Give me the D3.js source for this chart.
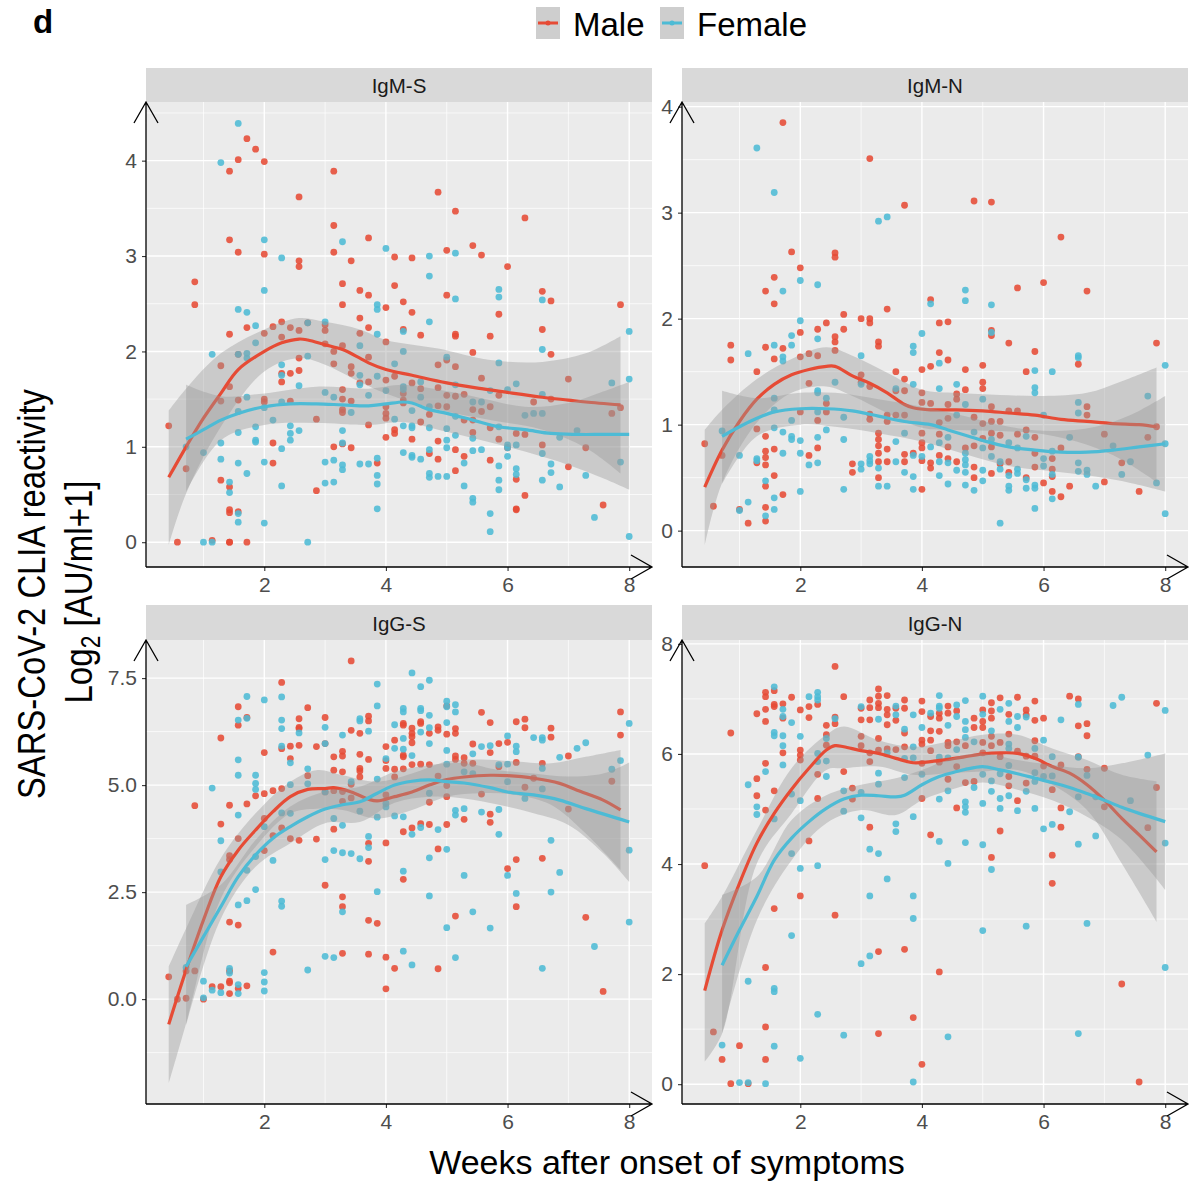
<!DOCTYPE html>
<html>
<head>
<meta charset="utf-8">
<script src="https://cdn.jsdelivr.net/npm/d3@7"></script>
<style>
  body { margin: 0; background: #fff; }
</style>
</head>
<body>
<svg id="chart" width="1192" height="1185"></svg>
<script>
// ---- data: points are [day after onset, value, value, ...] (x axis is day / 7 = weeks) ----
const igmS_male = [[3,1.22],[4,0],[5,0.77],[6,2.73,2.49],[8,0.02],[9,1.85,1.48,0.65],
  [10,3.89,3.17,2.18,1.63,0.58,0.34,0.31,0,0],[11,4.01,3.04,1.97,1.49,0.32],[12,4.23,2.25,0],[13,4.12],
  [14,3.99,3.02,2.19,1.5,1.47],[15,2.26,1.04,0.83],[16,2.31,2.15,1.77,1.68],[17,2.25,1.77,1.48],
  [18,3.62,2.95,2.89,2.22,1.93,1.8],[19,2.3],[20,1.29,0.54],[21,2.28,2.22,2.08],[22,3.89,3.32,3.04,2.0,1.87,1.0],
  [23,2.71,2.49,2.06,1.6,1.5,1.39,1.36,1.03],[24,2.95,1.84,1.77,1.48,0.99],[25,2.64,2.35,2.19,1.67],
  [26,3.19,2.59,2.25,1.94,1.68,1.23],[27,0.83],[28,2.46,2.1,1.7,1.42,1.35,1.3,1.1],[29,2.99,2.69,1.74,1.18,1.14],
  [30,2.52,2.23,1.56,1.49,1.46],[31,2.98,2.41,1.67,1.08],[32,2.17,1.61,1.26],[33,1.34,0.93],
  [34,3.67,1.86,1.62,1.43,1.06,0.87],[35,3.06,2.59,1.91,1.54,1.42],[36,3.47,2.18,2.16,1.84,1.53,0.97,0.75],
  [37,1.55,1.28,0.9],[38,3.11,1.99,1.39,1.28,1.15],[39,3.01,1.72,1.37],[40,2.16,1.42,1.2,0.86],[41,2.39,1.54,1.08],
  [42,2.89,0.99],[43,1.14,0.66,0.35,0.34],[44,3.4,1.13,0.49],[45,1.47],[46,2.63,2.23,1.02],[47,2.53,1.97,1.5],
  [49,1.71,0.79],[51,0.99],[53,0.39],[54,1.35],[55,2.49,1.41]];
const igmS_female = [[5,1.0],[7,0.94,0],[8,1.97,0],[9,3.98,1.04,0.87],[10,0.63,0.52],
  [11,4.39,2.44,1.97,1.37,1.15,0.83,0.3,0.21],[12,2.41,1.98,1.93,1.52,0.72],[13,2.27,2.09,1.21,1.07,1.05],
  [14,3.17,2.64,1.41,0.84,0.2],[15,1.28],[16,2.98,1.86,1.75,1.47,0.98,0.59],[17,1.22,1.14,1.07],[18,1.64,1.17],
  [19,2.3,1.95,0],[21,2.31,1.57,0.84,0.62],[22,1.52,0.86,0.63],[23,3.15,1.17,1.04,0.81,0.76],[24,1.36],
  [25,2.06,1.75,1.65,0.82],[26,1.54,0.82],[27,2.49,2.44,2.18,1.74,0.88,0.7,0.61,0.35],[28,3.08,1.59],[29,1.87,1.29],
  [30,2.21,2.0,1.63,1.6,1.22,0.94],[31,1.38,1.22,1.2,0.91,0.89],[32,1.68,1.52,0.87],
  [33,3.0,2.79,2.31,1.42,1.2,0.97,0.72,0.68],[34,0.69],[35,1.94,1.19,1.07,0.99,0.69],[36,3.03,2.55,1.65,1.32,1.12],
  [37,0.83,0.59],[38,1.47,1.09,0.96,0.46,0.42],[39,1.47,0.97],[40,1.59,0.3,0.11],[41,2.65,2.57,1.88,1.21,0.8,0.65,0.55],
  [42,1.6,1.02,0.99,0.9],[43,1.66,1.02,0.77,0.71],[44,1.33],[45,1.35],[46,2.54,2.02,1.55,1.35,0.93,0.65],
  [47,0.82,0.73],[48,1.1,0.58],[50,1.17],[51,0.7],[52,0.26],[54,1.67],[55,0.84],[56,2.21,1.71,0.06]];

const igmN_male = [[3,0.82],[4,0.23],[5,0.71],[6,1.75,1.61],[7,0.2],[8,0.07],[9,1.5,0.96,0.64],
  [10,2.26,1.73,0.89,0.75,0.69,0.62,0.42,0.22,0.09],[11,2.39,2.14,1.62,0.77,0.52],[12,3.85,1.72,0.34],[13,2.63],
  [14,2.48,1.87,1.64,1.12],[15,1.67,1.39,0.71],[16,1.9,1.65,1.04,0.78],[17,1.96,1.2,1.12],[18,2.62,2.58,1.83,1.78,1.7],
  [19,2.04,1.9],[20,0.63,0.55],[21,2.0,1.47,1.4],[22,3.51,2.0,1.96,1.36,1.1,1.05],[23,1.78,1.74,0.92,0.86,0.8,0.73,0.65,0.5],
  [24,2.09,1.09,1.03,0.77,0.65],[25,1.5,1.32,1.09],[26,3.07,1.43,1.32,1.09,0.72,0.65],[27,0.73],
  [28,1.52,1.3,1.21,0.92,0.83,0.78,0.66,0.39],[29,2.18,1.55,1.2,0.64,0.59],[30,1.96,1.68,1.02,0.91,0.71],
  [31,1.97,1.61,1.19,1.06,0.79,0.68],[32,1.29,1.24,0.65],[33,1.52,1.33,0.78],[34,3.11,1.07,0.8,0.6,0.5],
  [35,1.56,1.4,1.34,1.01,0.87],[36,3.1,1.89,1.84,1.17,1.03,0.92,0.79,0.54],[37,1.03,0.9,0.63],[38,1.77,1.13,0.65,0.55],
  [39,2.29,1.13,0.91],[40,1.5,0.95,0.5],[41,1.69,0.88,0.73,0.6],[42,2.34,0.45],[43,0.68,0.58,0.51,0.37],
  [44,2.77,0.78,0.32],[45,0.42],[46,1.57],[47,2.26,1.17,1.09],[49,0.91,0.46],[51,0.64],[53,0.37],[54,0.88],[55,1.77,0.98]];
const igmN_female = [[5,0.94],[7,0.71,0.19],[8,1.67,0.27],[9,3.61,0.68,0.66],[10,0.47,0.14],
  [11,3.19,1.75,1.25,1.14,0.97,0.31,0.2],[12,2.26,1.64,1.6,0.93,0.73],[13,1.84,1.75,1.04,0.89,0.86],
  [14,2.36,1.98,0.85,0.73,0.37],[15,0.62],[16,2.32,1.81,1.32,1.3,1.12,0.88,0.64],[17,1.25,0.95],[18,1.4],
  [19,1.07,0.86,0.39],[21,1.65,1.38,0.63,0.58],[22,0.7,0.66,0.63],[23,2.92,0.59,0.42],[24,2.96,0.42],
  [25,1.34,0.84,0.65],[26,0.92,0.55],[27,1.74,1.68,1.38,0.71,0.51,0.39],[28,1.86,0.7],[29,2.14,0.79],
  [30,1.58,1.34,0.83,0.65,0.52],[31,0.88,0.64,0.44],[32,1.38,1.09,0.57],[33,2.27,2.17,1.19,0.73,0.67,0.62,0.55,0.43],
  [34,0.93,0.38],[35,1.24,0.78,0.57,0.47],[36,2.13,1.87,0.86,0.7],[37,0.65,0.58,0.07],[38,0.83,0.52,0.42,0.38],
  [39,0.78,0.58,0.54],[40,0.89,0.48,0.4],[41,1.51,1.35,1.3,0.43,0.4,0.21],[42,1.09,0.68,0.61],[43,1.5,0.75,0.53,0.3],
  [45,0.88],[46,1.65,1.63,1.21,1.11,0.64,0.56],[47,0.57,0.53],[48,0.42],[50,0.8],[51,0.53],[52,0.65],[54,1.27],
  [55,0.45],[56,1.56,0.82,0.16]];

const iggS_male = [[3,0.52],[4,0],[5,0.02,0.66],[6,4.52,0.66],[7,0],[8,0.29],[9,6.1,4.09,0.29],
  [10,4.53,3.35,3.26,1.8,0.66,0.42,0.38,0.13],[11,6.83,6.4,3.75,1.73,0.25],[12,6.58,4.56,0.31],[13,4.75],
  [14,5.76,4.8,4.22,3.47],[15,4.87,3.82,1.1],[16,7.4,5.85,4.92,4.0],[17,5.91,5.62,3.75],[18,6.55,6.35,6.32,5.93,3.71],
  [19,6.81,5.22],[20,5.9,3.74],[21,6.58,5.97,4.84,2.66],[22,5.66,5.35,4.87,3.97],[23,5.79,5.68,5.31,4.85,4.62,2.39,2.16,1.07],
  [24,7.9,6.28,5.02,4.7],[25,6.21,5.72,5.39,5.33,5.19],[26,6.61,6.5,5.6,3.64,3.22,1.84,1.05],[27,1.77],
  [28,5.9,5.57,5.39,4.77,3.65,0.98,0.24],[29,6.05,5.37,5.19,0.72],[30,6.44,6.4,5.7,5.66,5.38,3.91,2.8],
  [31,6.33,6.21,6.13,5.99,5.48,4.0],[32,6.48,6.44,5.49,4.1],[33,6.21,5.48,4.6,4.08],[34,6.36,6.28,5.21,3.51,0.71],
  [35,6.85,6.19,4.99,4.73,4.08],[36,6.32,6.21,5.68,5.6,1.94],[37,5.64,5.51,4.2],[38,5.96,5.51],[39,6.7,4.79],
  [40,6.46,5.76,4.32,4.13],[41,5.97,5.43],[42,6.0,3.05],[43,6.48,5.53,3.26,2.16],[44,6.54,6.34,4.95],[45,5.16],
  [46,5.51,3.29],[47,6.33,6.12],[49,5.68,4.44],[51,1.91],[53,0.18],[54,5.09],[55,6.71,6.17]];
const iggS_female = [[5,0.74],[7,0.42,0.03],[8,4.93,0.21],[9,3.7,2.97,0.15],[10,0.72,0.61],
  [11,6.52,5.59,5.23,4.3,2.2,0.34,0.13],[12,7.07,6.56,3.01,2.3],[13,5.23,5.04,4.9,3.33,2.56],[14,6.99,4.03,0.62,0.4,0.19],
  [15,3.24],[16,7.06,6.52,6.32,5.91,4.35,2.29,2.17],[17,5.52,5.01,4.34],[18,6.22],[19,5.38,5.03,0.68],
  [21,6.35,5.97,4.84,3.26,1.0],[22,4.22,3.47,0.97],[23,6.17,4.06,3.42,2.04],[24,5.08,3.4],[25,6.55,6.5,4.39,3.28],
  [26,6.26,3.8,3.54],[27,7.36,6.85,5.14,4.25,2.51],[28,5.62,4.57,4.49],[29,6.41,5.86,4.28],
  [30,6.79,6.71,6.09,5.84,4.26,2.99,1.12],[31,7.62,5.69,3.85,0.8],[32,7.3,6.79,6.74,6.24,4.01],
  [33,7.45,6.63,6.34,5.97,4.81,3.3,2.41],[34,3.96],[35,6.96,6.83,6.46,5.81,5.49,3.5,1.67],[36,6.88,6.71,4.41,4.3,0.97],
  [37,5.31,4.45,2.89],[38,5.73,5.27,2.04],[39,5.9,4.37],[40,5.92,1.66],[41,5.48,4.43,3.85],[42,6.15,5.49,5.08,2.89],
  [43,5.91,5.78,2.47],[44,4.69],[45,6.11],[46,6.11,6.05,5.39,4.91,0.72],[47,3.71,2.5],[48,5.65,2.96],[50,5.86],
  [51,5.99],[52,1.23],[54,5.37],[55,5.57],[56,6.44,3.48,1.8]];

const iggN_male = [[3,3.97],[4,0.95],[5,0.45],[6,6.38,0.01],[7,0.7],[8,0.01],[9,6.73,5.55,5.24],
  [10,7.12,7.04,6.81,6.59,5.83,4.98,2.12,1.04,0.45],[11,7.15,6.9,6.86,5.33,3.19],[12,6.91,6.65,6.02],[13,7.03],
  [14,6.8,6.07,5.98,5.89,3.42],[15,6.86,6.66,4.42],[16,6.9,5.63,5.19],[17,6.52,6.35,6.16],[18,7.59,6.67,6.55,3.07],
  [19,7.04,5.68],[20,5.38,5.18],[21,6.83,6.62,6.32,6.15],[22,6.98,6.84,6.62,6.02,5.86,4.67],
  [23,7.18,7.05,6.92,6.84,6.28,6.07,2.41,0.92],[24,7.06,6.81,6.71,6.53,6.09],[25,6.83,6.61,6.08],
  [26,6.98,6.83,6.38,6.13,2.45],[27,1.21],[28,6.96,6.77,6.25,6.18,5.83,5.19,0.36],[29,6.68,6.42,6.25,6.06,4.53],
  [30,6.74,6.65,6.41,5.85,2.04],[31,6.87,6.74,6.21,6.15,5.54],[32,6.78,6.22,5.77,5.02],[33,6.15,5.48],
  [34,6.65,6.48,5.5],[35,6.8,6.59,6.48,6.21,6.02],[36,6.93,6.78,6.65,6.32,6.15,4.12],[37,7.02,6.21,5.95,4.6],
  [38,6.72,6.36,5.59,5.42],[39,7.03,6.05,5.15],[40,6.8,6.71,5.96,5.47],[41,6.96,6.61,6.24,5.96],[42,6.65,5.78],
  [43,5.35,4.16,3.65],[44,5.8,5.02,4.67],[45,7.05],[46,7.0,6.51,5.95],[47,6.55,6.33,5.72],[49,5.74,5.04],
  [51,1.82],[53,0.04],[54,4.66],[55,6.92,5.39]];
const iggN_female = [[5,0.71],[7,0.03],[8,5.44,1.87,0.03],[9,5.04,4.9],[10,5.68,0.01],
  [11,7.22,6.39,6.33,4.82,1.74,1.68,0.69],[12,6.81,6.68,6.33,6.15,5.8],[13,6.57,5.27,4.19,2.7],[14,6.32,5.15,3.92,0.47],
  [15,7.04],[16,7.12,7.04,6.98,6.01,5.86,3.97,1.27],[17,6.28,5.87,5.59],[18,6.64],[19,5.33,4.96,0.89],
  [21,6.86,5.3,4.84,2.19],[22,4.27,3.42,2.33],[23,6.63,5.65,5.45,4.19],[24,6.02,3.73],[25,6.87,6.71,4.73,4.59],
  [26,6.45,5.92,5.57],[27,6.71,6.13,5.93,4.86,3.42,3.01,0.04],[28,6.48,5.63],[29,6.74],
  [30,7.06,6.87,6.83,5.94,5.18,4.41],[31,6.52,5.93,5.33,4.01,0.86],[32,6.89,6.68,6.08],
  [33,6.97,6.59,6.44,6.3,5.13,5.04,4.94,4.39],[34,6.22,5.39],[35,7.05,6.72,5.63,5.1,4.35,2.79],[36,6.42,5.51,5.32,3.9],
  [37,6.81,5.64,5.19,5.01],[38,6.92,6.59,6.18,6.1,5.79,5.24],[39,6.68,6.48,4.97],[40,6.67,5.32,2.87],
  [41,6.1,5.66,5.5,5.01],[42,6.25,5.59,4.64],[43,5.95,5.6,4.72],[44,6.62],[45,4.95],[46,6.9,5.94,5.22,4.36,0.92],
  [47,5.61,2.92],[48,5.22,4.51],[50,6.88],[51,7.03],[52,5.15],[54,5.98],[56,6.79,4.38,2.12]];

// ---- smoothed fits [day, fit] and confidence bands [day, lower, upper] ----
const igmS_maleFit = [[3,0.68],[5,1.0],[7,1.3],[9,1.56],[11,1.81],[14,2.0],[16,2.09],[18,2.13],[19,2.12],[21,2.07],[23,2.02],
  [25,1.93],[26,1.88],[28,1.81],[31,1.75],[35,1.67],[39,1.61],[42,1.57],[46,1.52],[49,1.49],[51,1.47],[55,1.44]];
const igmS_maleBand = [[3,-0.03,1.38],[5,0.51,1.61],[9,1.21,1.98],[14,1.79,2.23],[18,1.93,2.35],[21,1.86,2.31],[25,1.68,2.23],
  [28,1.56,2.12],[34,1.39,2.03],[40,1.28,1.91],[46,1.18,1.89],[51,0.99,1.98],[55,0.72,2.16]];
const igmS_femaleFit = [[5,1.08],[7,1.18],[9,1.28],[11,1.35],[14,1.42],[17,1.45],[20,1.45],[23,1.44],[26,1.43],[28,1.45],
  [30,1.47],[31,1.46],[33,1.39],[35,1.35],[38,1.28],[41,1.21],[44,1.18],[47,1.14],[50,1.13],[53,1.13],[56,1.13]];
const igmS_femaleBand = [[5,0.53,1.65],[9,1.07,1.53],[14,1.23,1.56],[20,1.25,1.63],[26,1.23,1.61],[30,1.26,1.65],[34,1.18,1.6],
  [39,1.07,1.51],[44,0.95,1.42],[49,0.81,1.46],[53,0.67,1.58],[56,0.55,1.68]];

const igmN_maleFit = [[3,0.41],[5,0.76],[7,1.03],[9,1.24],[11,1.38],[13,1.47],[15,1.52],[17,1.55],[18,1.55],[20,1.46],[22,1.39],
  [24,1.3],[26,1.19],[27,1.16],[29,1.14],[32,1.14],[35,1.13],[38,1.11],[41,1.09],[44,1.05],[47,1.03],[50,1.01],[53,1.0],[55,0.98]];
const igmN_maleBand = [[3,-0.14,0.95],[5,0.45,1.14],[9,1.02,1.43],[13,1.3,1.62],[17,1.36,1.73],[20,1.27,1.65],[24,1.11,1.49],
  [28,0.97,1.33],[32,0.95,1.3],[37,0.94,1.28],[42,0.91,1.27],[47,0.81,1.3],[51,0.67,1.41],[55,0.46,1.54]];
const igmN_femaleFit = [[5,0.89],[7,0.98],[9,1.06],[11,1.12],[14,1.15],[17,1.15],[20,1.13],[23,1.08],[26,1.03],[29,1.0],
  [31,0.95],[33,0.9],[35,0.85],[38,0.79],[41,0.76],[44,0.74],[47,0.74],[50,0.76],[53,0.79],[56,0.82]];
const igmN_femaleBand = [[5,0.44,1.32],[9,0.89,1.25],[14,1.0,1.3],[18,0.98,1.3],[23,0.92,1.24],[28,0.84,1.17],[33,0.72,1.08],
  [38,0.61,0.98],[43,0.56,0.94],[48,0.51,0.98],[52,0.45,1.09],[56,0.37,1.27]];

const iggS_maleFit = [[3,-0.59],[5,0.68],[7,1.85],[9,2.86],[11,3.48],[13,3.95],[15,4.38],[17,4.73],[19,4.9],[21,4.92],[22,4.94],
  [24,4.84],[26,4.67],[27,4.63],[29,4.73],[31,4.84],[33,5.0],[35,5.13],[37,5.19],[40,5.23],[42,5.22],[45,5.16],[48,5.04],
  [50,4.88],[53,4.65],[55,4.42]];
const iggS_maleBand = [[3,-1.97,0.76],[5,-0.57,1.65],[9,2.35,3.29],[13,3.56,4.34],[17,4.34,5.08],[20,4.45,5.35],[23,4.42,5.23],
  [27,4.22,5.08],[31,4.42,5.27],[35,4.73,5.55],[39,4.81,5.6],[43,4.77,5.55],[47,4.54,5.51],[51,3.87,5.66],[55,3.02,5.82]];
const iggS_femaleFit = [[5,0.76],[7,1.46],[9,2.16],[11,2.86],[13,3.37],[15,3.76],[17,4.03],[19,4.26],[21,4.44],[23,4.54],
  [25,4.61],[27,4.81],[29,5.0],[31,5.09],[33,5.12],[35,5.08],[37,5.05],[40,4.94],[42,4.84],[45,4.77],[48,4.65],[51,4.45],[56,4.14]];
const iggS_femaleBand = [[5,-0.61,2.2],[9,1.88,2.67],[13,3.09,3.72],[17,3.64,4.5],[21,4.11,4.85],[25,4.14,4.96],[29,4.59,5.31],
  [33,4.73,5.47],[37,4.69,5.51],[41,4.54,5.35],[45,4.34,5.27],[49,4.07,5.2],[53,3.41,5.27],[56,2.74,5.53]];

const iggN_maleFit = [[3,1.7],[5,2.8],[7,3.65],[9,4.38],[11,4.92],[13,5.36],[15,5.74],[17,6.07],[18,6.15],[19,6.13],[21,6.06],
  [23,6.01],[25,5.92],[27,5.84],[29,5.86],[31,5.9],[33,5.95],[35,6.0],[37,6.02],[39,6.01],[41,5.92],[43,5.77],[45,5.65],
  [47,5.44],[49,5.16],[51,4.83],[53,4.53],[55,4.22]];
const iggN_maleBand = [[3,0.41,2.92],[5,0.92,3.41],[9,4.01,4.62],[13,4.92,5.74],[17,5.71,6.35],[19,5.74,6.5],[23,5.77,6.25],
  [27,5.62,6.13],[31,5.65,6.22],[35,5.68,6.35],[39,5.71,6.35],[43,5.44,6.1],[47,4.98,5.89],[51,4.01,5.62],[55,2.95,5.5]];
const iggN_femaleFit = [[5,2.16],[7,2.8],[9,3.41],[11,4.07],[13,4.47],[15,4.77],[17,5.01],[19,5.18],[21,5.25],[23,5.24],
  [25,5.22],[26,5.25],[28,5.44],[30,5.59],[32,5.68],[34,5.75],[35,5.77],[37,5.71],[39,5.64],[41,5.56],[43,5.48],[45,5.39],
  [47,5.28],[49,5.16],[51,5.03],[53,4.92],[56,4.77]];
const iggN_femaleBand = [[5,0.92,3.44],[9,2.98,3.77],[13,4.07,4.8],[17,4.74,5.25],[21,4.98,5.44],[25,4.89,5.56],[28,5.16,5.71],
  [32,5.38,5.95],[35,5.48,6.01],[39,5.35,5.89],[43,5.16,5.8],[47,4.86,5.74],[51,4.44,5.83],[56,3.53,6.01]];

// ---- axis ticks ----
const xTicks = [2, 4, 6, 8];
const xMinor = [1, 3, 5, 7];
const igmS_yTicks = [0, 1, 2, 3, 4];
const igmN_yTicks = [0, 1, 2, 3, 4];
const iggS_yTicks = [0, 2.5, 5, 7.5];
const iggN_yTicks = [0, 2, 4, 6, 8];

const sexes = ['Male', 'Female'];
const colors = { Male: '#E64B35', Female: '#4DBBD5' };
const FONT = '"Liberation Sans", Arial, Helvetica, sans-serif';

const cols = [{ left: 146, right: 652 }, { left: 682, right: 1188 }];
const rowsPos = [{ stripTop: 68, top: 102, bottom: 567 }, { stripTop: 605, top: 640, bottom: 1104 }];

const panels = [
  { name: 'IgM-S', col: 0, row: 0, yDomain: [-0.26, 4.615], yTicks: igmS_yTicks, fmt: d3.format('d'),
    pts: { Male: igmS_male, Female: igmS_female }, fit: { Male: igmS_maleFit, Female: igmS_femaleFit },
    band: { Male: igmS_maleBand, Female: igmS_femaleBand } },
  { name: 'IgM-N', col: 1, row: 0, yDomain: [-0.343, 4.044], yTicks: igmN_yTicks, fmt: d3.format('d'),
    pts: { Male: igmN_male, Female: igmN_female }, fit: { Male: igmN_maleFit, Female: igmN_femaleFit },
    band: { Male: igmN_maleBand, Female: igmN_femaleBand } },
  { name: 'IgG-S', col: 0, row: 1, yDomain: [-2.45, 8.39], yTicks: iggS_yTicks, fmt: d3.format('.1f'),
    pts: { Male: iggS_male, Female: iggS_female }, fit: { Male: iggS_maleFit, Female: iggS_femaleFit },
    band: { Male: iggS_maleBand, Female: iggS_femaleBand } },
  { name: 'IgG-N', col: 1, row: 1, yDomain: [-0.36, 8.07], yTicks: iggN_yTicks, fmt: d3.format('d'),
    pts: { Male: iggN_male, Female: iggN_female }, fit: { Male: iggN_maleFit, Female: iggN_femaleFit },
    band: { Male: iggN_maleBand, Female: iggN_femaleBand } }
];

const svg = d3.select('#chart');
svg.append('rect').attr('width', 1192).attr('height', 1185).attr('fill', '#fff');

// flatten [day, v1, v2..] rows into points
function flatten(rows) {
  return rows.flatMap(([d, ...vs]) => vs.map(v => ({ week: d / 7, value: v })));
}

panels.forEach((p, i) => {
  const c = cols[p.col], r = rowsPos[p.row];
  const x = d3.scaleLinear().domain([0.055, 8.375]).range([c.left, c.right]);
  const y = d3.scaleLinear().domain(p.yDomain).range([r.bottom, r.top]);
  const g = svg.append('g');

  // strip
  g.append('rect').attr('x', c.left).attr('y', r.stripTop).attr('width', c.right - c.left)
    .attr('height', r.top - r.stripTop).attr('fill', '#D9D9D9');
  g.append('text').attr('x', (c.left + c.right) / 2).attr('y', r.top - 9)
    .attr('text-anchor', 'middle').attr('font-family', FONT).attr('font-size', 20.5)
    .attr('fill', '#1A1A1A').text(p.name);

  // panel background + grid
  g.append('rect').attr('x', c.left).attr('y', r.top).attr('width', c.right - c.left)
    .attr('height', r.bottom - r.top).attr('fill', '#EBEBEB');

  const step = p.yTicks[1] - p.yTicks[0];
  const yMinor = d3.range(p.yTicks[0] - step / 2, p.yTicks[p.yTicks.length - 1] + step, step)
    .filter(v => v > p.yDomain[0] && v < p.yDomain[1]);
  g.selectAll('.ymin').data(yMinor).enter().append('line')
    .attr('x1', c.left).attr('x2', c.right).attr('y1', d => y(d)).attr('y2', d => y(d))
    .attr('stroke', '#fff').attr('stroke-width', 0.7);
  g.selectAll('.xmin').data(xMinor).enter().append('line')
    .attr('y1', r.top).attr('y2', r.bottom).attr('x1', d => x(d)).attr('x2', d => x(d))
    .attr('stroke', '#fff').attr('stroke-width', 0.7);
  g.selectAll('.ymaj').data(p.yTicks.filter(v => v <= p.yDomain[1])).enter().append('line')
    .attr('x1', c.left).attr('x2', c.right).attr('y1', d => y(d)).attr('y2', d => y(d))
    .attr('stroke', '#fff').attr('stroke-width', 1.4);
  g.selectAll('.xmaj').data(xTicks).enter().append('line')
    .attr('y1', r.top).attr('y2', r.bottom).attr('x1', d => x(d)).attr('x2', d => x(d))
    .attr('stroke', '#fff').attr('stroke-width', 1.4);

  const clipId = 'clip' + i;
  svg.append('clipPath').attr('id', clipId).append('rect')
    .attr('x', c.left).attr('y', r.top).attr('width', c.right - c.left).attr('height', r.bottom - r.top);
  const plot = g.append('g').attr('clip-path', `url(#${clipId})`);

  // points
  sexes.forEach(s => {
    plot.append('g').selectAll('circle').data(flatten(p.pts[s])).enter().append('circle')
      .attr('cx', d => x(d.week)).attr('cy', d => y(d.value)).attr('r', 3.4)
      .attr('fill', colors[s]).attr('fill-opacity', 0.88);
  });

  // smooth ribbons and lines (per group: ribbon then line)
  const area = d3.area().x(d => x(d[0] / 7)).y0(d => y(d[1])).y1(d => y(d[2])).curve(d3.curveCatmullRom);
  const line = d3.line().x(d => x(d[0] / 7)).y(d => y(d[1])).curve(d3.curveCatmullRom);
  sexes.forEach(s => {
    plot.append('path').attr('d', area(p.band[s])).attr('fill', '#999999').attr('fill-opacity', 0.4);
    plot.append('path').attr('d', line(p.fit[s])).attr('fill', 'none')
      .attr('stroke', colors[s]).attr('stroke-width', 3.2);
  });

  // axes
  const ay = g.append('g').attr('transform', `translate(${c.left},0)`)
    .call(d3.axisLeft(y).tickValues(p.yTicks).tickFormat(p.fmt).tickSize(4).tickPadding(5));
  const ax = g.append('g').attr('transform', `translate(0,${r.bottom})`)
    .call(d3.axisBottom(x).tickValues(xTicks).tickFormat(d3.format('d')).tickSize(4).tickPadding(6));
  [ay, ax].forEach(a => {
    a.select('.domain').remove();
    a.attr('font-family', FONT).attr('font-size', 21);
    a.selectAll('line').attr('stroke', '#333').attr('stroke-width', 1.1);
    a.selectAll('text').attr('fill', '#4D4D4D');
  });

  // axis lines with open arrows
  const axis = d3.path();
  axis.moveTo(c.left, r.bottom); axis.lineTo(c.left, r.top);
  axis.moveTo(c.left - 12, r.top + 21); axis.lineTo(c.left, r.top); axis.lineTo(c.left + 12, r.top + 21);
  axis.moveTo(c.left, r.bottom); axis.lineTo(c.right, r.bottom);
  axis.moveTo(c.right - 21, r.bottom - 12); axis.lineTo(c.right, r.bottom); axis.lineTo(c.right - 21, r.bottom + 12);
  g.append('path').attr('d', axis.toString()).attr('fill', 'none').attr('stroke', '#000')
    .attr('stroke-width', 1.3).attr('stroke-linejoin', 'miter');
});

// axis titles
svg.append('text').attr('x', 667).attr('y', 1174).attr('text-anchor', 'middle')
  .attr('font-family', FONT).attr('font-size', 34).attr('fill', '#000')
  .text('Weeks after onset of symptoms');

const yt1 = svg.append('text').attr('transform', 'translate(45,594) rotate(-90)')
  .attr('text-anchor', 'middle').attr('font-family', FONT).attr('font-size', 39).attr('fill', '#000')
  .attr('textLength', 410).attr('lengthAdjust', 'spacingAndGlyphs')
  .text('SARS-CoV-2 CLIA reactivity');
const yt2 = svg.append('text').attr('transform', 'translate(92,592) rotate(-90)')
  .attr('text-anchor', 'middle').attr('font-family', FONT).attr('font-size', 39).attr('fill', '#000')
  .attr('textLength', 223).attr('lengthAdjust', 'spacingAndGlyphs');
yt2.append('tspan').text('Log');
yt2.append('tspan').attr('font-size', 27).attr('dy', 8).text('2');
yt2.append('tspan').attr('dy', -8).text(' [AU/ml+1]');

// panel tag
svg.append('text').attr('x', 33).attr('y', 33).attr('font-family', FONT).attr('font-weight', 'bold')
  .attr('font-size', 33).attr('fill', '#000').text('d');

// legend
const legendX = { Male: 536, Female: 660 };
sexes.forEach(s => {
  const lg = svg.append('g').attr('transform', `translate(${legendX[s]},7)`);
  lg.append('rect').attr('width', 24).attr('height', 32).attr('fill', '#CECECE');
  lg.append('line').attr('x1', 2).attr('x2', 22).attr('y1', 16).attr('y2', 16)
    .attr('stroke', colors[s]).attr('stroke-width', 3);
  lg.append('circle').attr('cx', 12).attr('cy', 16).attr('r', 2.5).attr('fill', colors[s]);
  lg.append('text').attr('x', 37).attr('y', 29).attr('font-family', FONT).attr('font-size', 33)
    .attr('fill', '#000').text(s);
});
</script>
</body>
</html>
